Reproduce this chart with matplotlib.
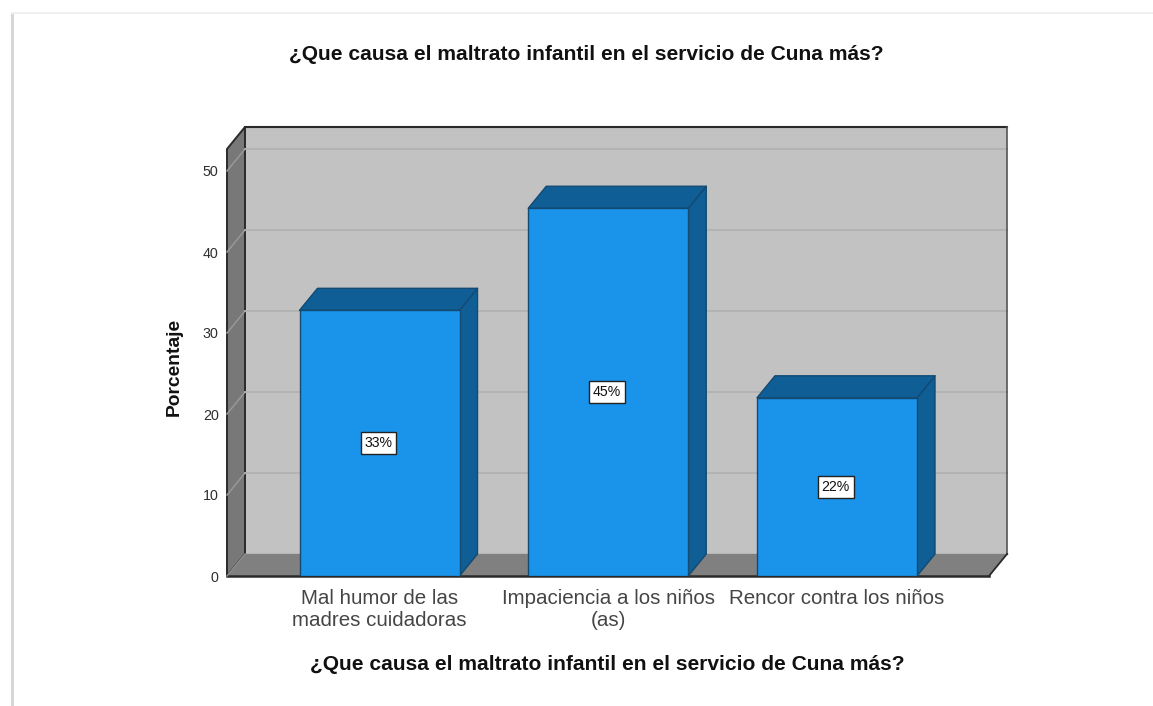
import matplotlib
matplotlib.use("Agg")
import matplotlib.pyplot as plt
from matplotlib.patches import Polygon, Rectangle
from matplotlib.lines import Line2D

categories = ["Mal humor de las\nmadres cuidadoras", "Impaciencia a los niños\n(as)", "Rencor contra los niños"]
values = [32.8, 45.4, 22.0]
labels = ["33%", "45%", "22%"]
yticks = [0, 10, 20, 30, 40, 50]
title = "¿Que causa el maltrato infantil en el servicio de Cuna más?"
ylabel = "Porcentaje"

W, H = 1153, 706
plt.rcParams['font.family'] = ['Liberation Sans', 'DejaVu Sans']
fig = plt.figure(figsize=(W/100, H/100), dpi=100, facecolor='white')

# page edge
fig.add_artist(Rectangle((11/W, 0), 3/W, 1-12/H, transform=fig.transFigure, color='#d6d6d6', lw=0))
fig.add_artist(Rectangle((11/W, 1-14/H), 1-11/W, 2/H, transform=fig.transFigure, color='#efefef', lw=0))

# front plane of the 3D box
L, R, T, B = 227, 989, 149, 576
ax = fig.add_axes([L/W, 1-B/H, (R-L)/W, (B-T)/H])
ax.patch.set_visible(False)
pxx = 228.75
pxy = 8.1
ax.set_xlim((L-379.5)/pxx, (R-379.5)/pxx)
ax.set_ylim(0, (B-T)/pxy)
dx, dy = 18/pxx, 22/pxy
x0, x1 = ax.get_xlim()
y0, y1 = ax.get_ylim()
edge = '#2a2a2a'

def poly(pts, fc, ec=edge, lw=1.3, z=1):
    ax.add_patch(Polygon(pts, closed=True, fc=fc, ec=ec, lw=lw, zorder=z, clip_on=False, joinstyle='round'))

# back wall, side wall, floor
poly([(x0+dx, dy), (x1+dx, dy), (x1+dx, y1+dy), (x0+dx, y1+dy)], '#c2c2c2', z=1, lw=0)
poly([(x0, y0), (x0+dx, dy), (x0+dx, y1+dy), (x0, y1)], '#787878', z=1, lw=1.4)
poly([(x0, y0), (x1, y0), (x1+dx, dy), (x0+dx, dy)], '#808080', z=1.2, lw=0)
ax.add_line(Line2D([x0+dx, x1+dx], [y1+dy, y1+dy], color=edge, lw=1.5, zorder=1.3, clip_on=False))
ax.add_line(Line2D([x1+dx, x1+dx], [dy, y1+dy], color='#555555', lw=1.2, zorder=1.3, clip_on=False))
ax.add_line(Line2D([x0, x1], [y0, y0], color=edge, lw=1.8, zorder=1.3, clip_on=False))
ax.add_line(Line2D([x1, x1+dx], [y0, dy], color=edge, lw=1.3, zorder=1.3, clip_on=False))
ax.add_line(Line2D([x0, x0+dx], [y0, dy], color='#8e8e8e', lw=1, zorder=1.3, clip_on=False))
ax.add_line(Line2D([x0+dx, x1+dx], [dy, dy], color='#8e8e8e', lw=1, zorder=1.15, clip_on=False))

# gridlines on walls
for v in yticks[1:]:
    ax.add_line(Line2D([x0, x0+dx], [v, v+dy], color='#989898', lw=1.1, zorder=1.1, clip_on=False))
    ax.add_line(Line2D([x0+dx, x1+dx], [v+dy, v+dy], color='#b2b2b2', lw=1.3, zorder=1.1, clip_on=False))

# bars
w = 160/pxx
for i, v in enumerate(values):
    a, b = i-w/2, i+w/2
    poly([(b, 0), (b+dx, dy), (b+dx, v+dy), (b, v)], '#0f5e96', ec='#134a72', lw=1, z=3)
    poly([(a, v), (b, v), (b+dx, v+dy), (a+dx, v+dy)], '#0f5e96', ec='#134a72', lw=1, z=3)
    ax.bar(i, v, width=w, color='#1994ea', edgecolor='#134a72', linewidth=1, zorder=4)
    ax.text(i-0.005, v/2, labels[i], ha='center', va='center', fontsize=10.2, color='#111111', zorder=5,
            bbox=dict(boxstyle='square,pad=0.26', fc='white', ec='#222222', lw=1))

# axes
for s in ax.spines.values():
    s.set_visible(False)
ax.set_xticks(range(len(categories)))
ax.set_xticklabels(categories, fontsize=14.8, color='#454545', linespacing=1.2)
ax.tick_params(axis='x', length=0, pad=9)
ax.set_yticks(yticks)
ax.tick_params(axis='y', length=0, pad=6, labelsize=10.3, labelcolor='#2e2e2e')
fig.text(174/W, 1-367/H, ylabel, rotation=90, ha='center', va='center', fontsize=13.9, fontweight='bold', color='#111111')
fig.text(586/W, 1-55/H, title, ha='center', va='center', fontsize=15.1, fontweight='bold', color='#111111')
fig.text(607/W, 1-664/H, title, ha='center', va='center', fontsize=15.1, fontweight='bold', color='#111111')

fig.savefig("out.png", dpi=100, facecolor='white')
